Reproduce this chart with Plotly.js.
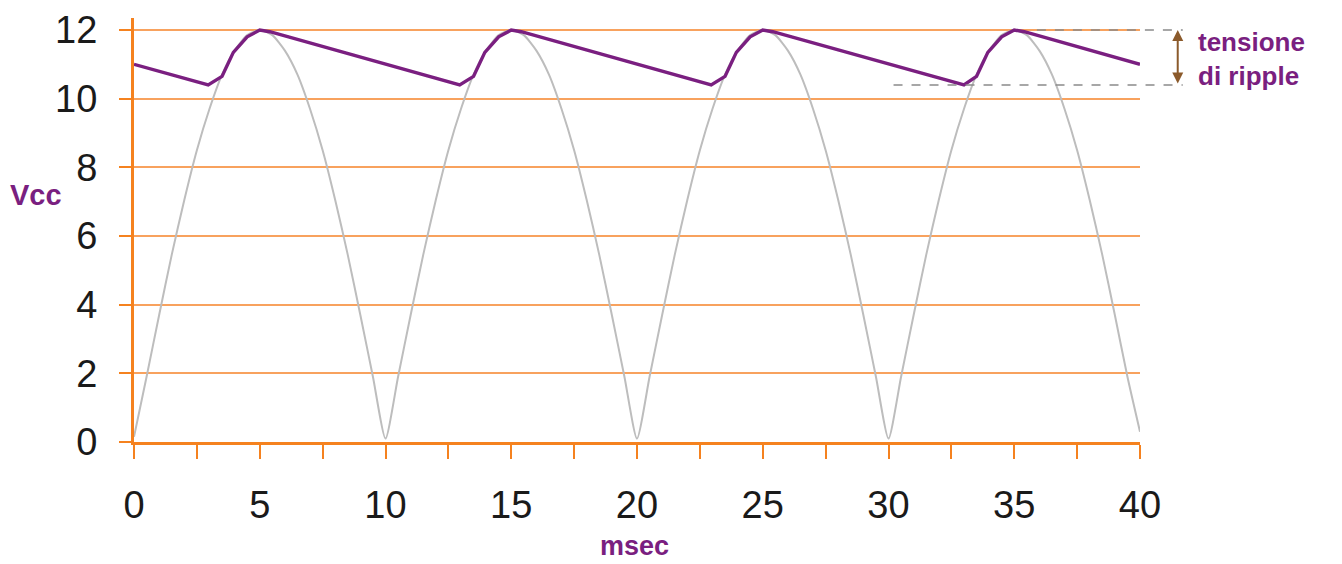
<!DOCTYPE html>
<html>
<head>
<meta charset="utf-8">
<script src="https://cdn.plot.ly/plotly-3.0.1.min.js"></script>
<style>html,body{margin:0;padding:0;background:#fff;}#chart{width:1342px;height:564px;}</style>
</head>
<body>
<div id="chart"></div>
<script>
// Rectified sine (gray), read every 0.5 ms
const sineX = [0,0.5,1,1.5,2,2.5,3,3.5,4,4.5,5,5.5,6,6.5,7,7.5,8,8.5,9,9.5,
  10,10.5,11,11.5,12,12.5,13,13.5,14,14.5,15,15.5,16,16.5,17,17.5,18,18.5,19,19.5,
  20,20.5,21,21.5,22,22.5,23,23.5,24,24.5,25,25.5,26,26.5,27,27.5,28,28.5,29,29.5,
  30,30.5,31,31.5,32,32.5,33,33.5,34,34.5,35,35.5,36,36.5,37,37.5,38,38.5,39,39.5,40];
const sineY = [0.15,1.9,3.7,5.45,7.05,8.5,9.7,10.7,11.4,11.85,12.0,11.85,11.4,10.7,9.7,8.5,7.05,5.45,3.7,1.9,
  0.1,1.9,3.7,5.45,7.05,8.5,9.7,10.7,11.4,11.85,12.0,11.85,11.4,10.7,9.7,8.5,7.05,5.45,3.7,1.9,
  0.1,1.9,3.7,5.45,7.05,8.5,9.7,10.7,11.4,11.85,12.0,11.85,11.4,10.7,9.7,8.5,7.05,5.45,3.7,1.9,
  0.1,1.9,3.7,5.45,7.05,8.5,9.7,10.7,11.4,11.85,12.0,11.85,11.4,10.7,9.7,8.5,7.05,5.45,3.7,1.9,0.3];

// Filtered Vcc with ripple (purple)
const vccX = [0,2.95,3.5,3.95,4.5,5.0,5.4,
  12.95,13.5,13.95,14.5,15.0,15.4,
  22.95,23.5,23.95,24.5,25.0,25.4,
  33.0,33.5,33.95,34.5,35.0,35.4,40];
const vccY = [11.0,10.4,10.65,11.35,11.8,12.0,11.95,
  10.4,10.65,11.35,11.8,12.0,11.95,
  10.4,10.65,11.35,11.8,12.0,11.95,
  10.4,10.65,11.35,11.8,12.0,11.95,11.0];

const xTickVals = [0,5,10,15,20,25,30,35,40];
const xTickText = ['0','5','10','15','20','25','30','35','40'];
const yTickVals = [0,2,4,6,8,10,12];
const yTickText = ['0','2','4','6','8','10','12'];

const xRange = [0, 40];
const yRange = [0, 12.35];
const rippleTop = Math.max(...vccY);
const rippleBottom = Math.min(...vccY);

const ORANGE = '#F5821F';
const GRID = '#F8A25E';
const PURPLE = '#7A1F80';
const BROWN = '#8B5A2B';
const DASH = '#8A8A8A';

const px = v => v / xRange[1];
const py = v => v / yRange[1];

const traces = [
  {x: sineX, y: sineY, type: 'scatter', mode: 'lines',
   line: {color: '#BDBDBD', width: 2, shape: 'spline', smoothing: 0.6}, hoverinfo: 'skip'},
  {x: vccX, y: vccY, type: 'scatter', mode: 'lines',
   line: {color: PURPLE, width: 3.4}, hoverinfo: 'skip'}
];

const layout = {
  width: 1342, height: 564,
  margin: {l: 134, r: 202, t: 18, b: 122},
  paper_bgcolor: '#ffffff', plot_bgcolor: '#ffffff',
  showlegend: false,
  font: {family: 'Liberation Sans, Arial, sans-serif', color: '#1a1a1a'},
  xaxis: {
    range: xRange, tickmode: 'array', tickvals: xTickVals, ticktext: xTickText,
    showgrid: false, zeroline: false,
    showline: true, linecolor: ORANGE, linewidth: 3,
    ticks: 'outside', ticklen: 14, tickwidth: 2, tickcolor: ORANGE,
    minor: {dtick: 2.5, tick0: 0, ticks: 'outside', ticklen: 14, tickwidth: 2, tickcolor: ORANGE, showgrid: false},
    tickfont: {size: 38, color: '#1a1a1a'},
    ticklabelstandoff: 13,
    fixedrange: true
  },
  yaxis: {
    range: yRange, tickmode: 'array', tickvals: yTickVals, ticktext: yTickText,
    showgrid: true, gridcolor: GRID, gridwidth: 2,
    zeroline: false,
    showline: true, linecolor: ORANGE, linewidth: 3,
    ticks: 'outside', ticklen: 12, tickwidth: 2, tickcolor: ORANGE,
    tickfont: {size: 38, color: '#1a1a1a'},
    ticklabelstandoff: 14,
    fixedrange: true
  },
  shapes: [
    {type: 'line', xref: 'paper', yref: 'paper', x0: px(35.9), x1: px(41.7), y0: py(rippleTop), y1: py(rippleTop),
     line: {color: DASH, width: 1.5, dash: 'dash'}},
    {type: 'line', xref: 'paper', yref: 'paper', x0: px(30.2), x1: px(41.7), y0: py(rippleBottom), y1: py(rippleBottom),
     line: {color: DASH, width: 1.5, dash: 'dash'}}
  ],
  annotations: [
    {xref: 'paper', yref: 'y', x: px(41.5), y: rippleTop, axref: 'pixel', ayref: 'y', ax: 0, ay: rippleBottom,
     text: '', showarrow: true, arrowside: 'end+start', arrowhead: 2, arrowsize: 1.1, arrowwidth: 2, arrowcolor: BROWN},
    {xref: 'paper', yref: 'y', x: 1.0567, y: 11.15, xanchor: 'left', yanchor: 'middle', align: 'left', showarrow: false,
     text: '<b>tensione<br>di ripple</b>', font: {size: 26, color: PURPLE}, borderpad: 0},
    {xref: 'paper', yref: 'y', x: -0.0974, y: 7.2, xanchor: 'center', yanchor: 'middle', showarrow: false,
     text: '<b>Vcc</b>', font: {size: 29, color: PURPLE}},
    {xref: 'paper', yref: 'paper', x: 0.498, y: -0.283, xanchor: 'center', yanchor: 'bottom', showarrow: false,
     text: '<b>msec</b>', font: {size: 27, color: PURPLE}, borderpad: 0}
  ]
};

Plotly.newPlot('chart', traces, layout, {staticPlot: true, displayModeBar: false});
</script>
</body>
</html>
